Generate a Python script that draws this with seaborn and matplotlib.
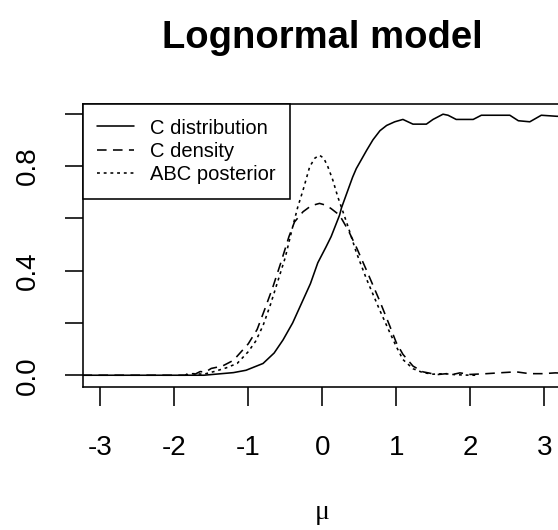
import matplotlib
matplotlib.use("Agg")
import matplotlib.pyplot as plt
import seaborn as sns

sns.set_style("ticks")
plt.rcParams["font.family"] = ["Liberation Sans", "DejaVu Sans"]
plt.rcParams.update({"text.color": "black", "axes.labelcolor": "black",
                     "xtick.color": "black", "ytick.color": "black",
                     "axes.edgecolor": "black"})

# C distribution (empirical distribution function of mu)
cdf_mu = [-3.24, -1.6, -1.4, -1.2, -1.03, -0.8, -0.65, -0.53, -0.4, -0.28, -0.16,
          -0.06, 0.05, 0.12, 0.234, 0.26, 0.41, 0.46, 0.6, 0.685, 0.78, 0.87, 0.98,
          1.09, 1.226, 1.407, 1.497, 1.632, 1.70, 1.81, 2.04, 2.15, 2.535, 2.65,
          2.805, 2.96, 3.17, 3.24]
cdf_val = [0.0, 0.0, 0.005, 0.01, 0.019, 0.045, 0.085, 0.135, 0.20, 0.275, 0.35,
           0.43, 0.49, 0.53, 0.612, 0.64, 0.757, 0.79, 0.86, 0.90, 0.935, 0.955, 0.969,
           0.978, 0.96, 0.96, 0.978, 0.998, 0.994, 0.978, 0.978, 0.994, 0.994, 0.973,
           0.969, 0.994, 0.99, 0.99]

# C density
dens_mu = [-3.24, -1.85, -1.8, -1.72, -1.65, -1.58, -1.5, -1.35, -1.2, -1.0, -0.88,
           -0.78, -0.67, -0.56, -0.45, -0.375, -0.26, -0.15, -0.037, 0.05, 0.12,
           0.234, 0.35, 0.46, 0.6, 0.775, 0.91, 1.0, 1.09, 1.226, 1.36, 1.45, 1.54,
           1.68, 1.78, 1.86, 2.0, 2.22, 2.44, 2.62, 2.8, 2.98, 3.15, 3.24]
dens_val = [0.0, 0.0, 0.01, 0.004, 0.014, 0.012, 0.026, 0.035, 0.057, 0.12, 0.175,
            0.25, 0.335, 0.43, 0.53, 0.586, 0.625, 0.648, 0.657, 0.65, 0.637,
            0.612, 0.555, 0.49, 0.40, 0.285, 0.19, 0.125, 0.08, 0.035, 0.013, 0.008,
            0.002, 0.006, 0.004, 0.009, 0.003, 0.006, 0.01, 0.013, 0.006, 0.006,
            0.009, 0.008]

# ABC posterior
abc_mu = [-1.85, -1.75, -1.6, -1.45, -1.3, -1.15, -1.0, -0.9, -0.8, -0.7, -0.6,
          -0.5, -0.40, -0.33, -0.26, -0.17, -0.1, -0.037, 0.02, 0.076, 0.143, 0.21,
          0.28, 0.35, 0.46, 0.595, 0.775, 0.91, 1.0, 1.09, 1.226, 1.36, 1.5, 1.65,
          1.8, 2.0, 2.1]
abc_val = [0.0, 0.006, 0.004, 0.015, 0.028, 0.045, 0.09, 0.13, 0.19, 0.27, 0.36,
           0.45, 0.567, 0.644, 0.707, 0.797, 0.83, 0.841, 0.83, 0.797, 0.746, 0.682,
           0.625, 0.567, 0.47, 0.37, 0.25, 0.165, 0.11, 0.06, 0.025, 0.01, 0.004,
           0.006, 0.002, 0.0, 0.0]

x_ticks = [-3, -2, -1, 0, 1, 2, 3]
x_tick_labels = ["-3", "-2", "-1", "0", "1", "2", "3"]
y_ticks = [0.0, 0.2, 0.4, 0.6, 0.8, 1.0]
y_tick_labels = ["0.0", "", "0.4", "", "0.8", ""]

W, H = 558, 530
fig = plt.figure(figsize=(W / 100, H / 100), dpi=100)
ax = fig.add_axes([82.5 / W, 1 - 387 / H, (562 - 82.5) / W, (387 - 104) / H])

lw = 1.15
sns.lineplot(x=cdf_mu, y=cdf_val, ax=ax, color="black", lw=lw, estimator=None,
             sort=False, linestyle="-", label="C distribution")
sns.lineplot(x=dens_mu, y=dens_val, ax=ax, color="black", lw=lw, estimator=None,
             sort=False, linestyle=(0, (6, 4)), label="C density")
sns.lineplot(x=abc_mu, y=abc_val, ax=ax, color="black", lw=lw, estimator=None,
             sort=False, linestyle=(0, (1.8, 2.4)), label="ABC posterior")

ax.set_xlim(-3.24, 3.24)
ax.set_ylim(-0.045, 1.037)
ax.set_xticks(x_ticks)
ax.set_xticklabels(x_tick_labels)
ax.set_yticks(y_ticks)
ax.set_yticklabels(y_tick_labels)

for s in ax.spines.values():
    s.set_linewidth(lw)
    s.set_color("black")

ax.tick_params(axis="x", direction="out", length=13.7, width=lw, color="black",
               labelcolor="black", labelsize=20, pad=21)
ax.tick_params(axis="y", direction="out", length=13, width=lw, color="black",
               labelcolor="black", labelsize=20, pad=17)
plt.setp(ax.get_yticklabels(), rotation=90, va="center")

ax.set_title("Lognormal model", fontsize=27.5, fontweight="bold", pad=40,
             color="black")
ax.set_xlabel("\u03bc", fontsize=20, labelpad=28, color="black",
              family=["Liberation Serif", "DejaVu Serif"])
ax.set_ylabel("")

leg = ax.legend(loc="upper left", bbox_to_anchor=(0, 1), borderaxespad=0,
                frameon=True, fancybox=False, edgecolor="black", framealpha=1,
                fontsize=14.5, handlelength=1.85, handletextpad=0.8,
                borderpad=0.72, labelspacing=0.22)
leg.get_frame().set_linewidth(lw)
for t in leg.get_texts():
    t.set_color("black")

fig.savefig("out.png", dpi=100)
